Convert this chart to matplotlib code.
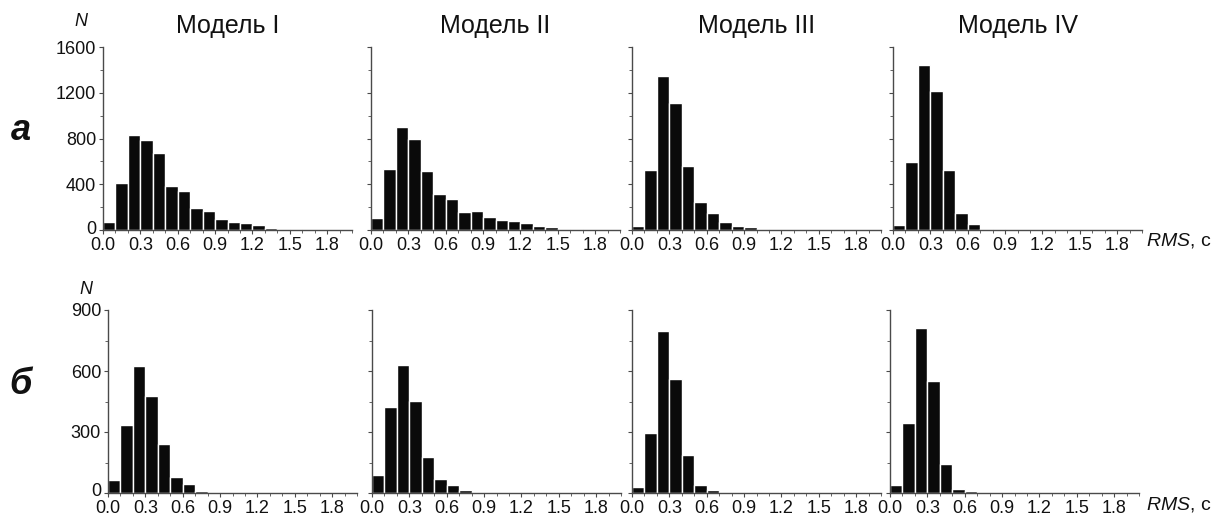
import numpy as np
import matplotlib.pyplot as plt
import matplotlib.transforms as mtransforms
from matplotlib.ticker import MultipleLocator

plt.rcParams['font.family'] = ['Liberation Sans', 'DejaVu Sans']
plt.rcParams['mathtext.fontset'] = 'custom'
plt.rcParams['mathtext.it'] = 'Liberation Sans:italic'
plt.rcParams['mathtext.rm'] = 'Liberation Sans'

# RMS bins: 0.0-0.1, 0.1-0.2, ... (width 0.1 s)
bin_width = 0.1
models = ["Модель I", "Модель II", "Модель III", "Модель IV"]

# row "а"
counts_a = [
    [70, 407, 829, 785, 675, 384, 340, 189, 163, 96, 73, 64, 41, 17, 9, 6, 0, 0, 0, 0],
    [102, 529, 902, 794, 512, 314, 268, 154, 166, 110, 90, 76, 61, 38, 23, 9, 6, 0, 0, 0],
    [38, 521, 1347, 1111, 556, 241, 145, 67, 38, 29, 9, 0, 0, 3, 0, 0, 0, 0, 0, 0],
    [44, 593, 1440, 1219, 527, 145, 52, 12, 12, 0, 0, 0, 0, 0, 0, 0, 0, 0, 0, 0],
]
# row "б"
counts_b = [
    [62, 332, 623, 475, 239, 80, 43, 11, 5, 0, 0, 0, 0, 0, 0, 0, 0, 0, 0, 0],
    [88, 421, 628, 452, 177, 69, 39, 16, 5, 1, 0, 4, 0, 0, 0, 0, 0, 0, 0, 0],
    [28, 293, 797, 560, 187, 41, 15, 0, 0, 5, 0, 0, 0, 0, 0, 0, 0, 0, 0, 0],
    [41, 344, 810, 551, 143, 20, 10, 0, 5, 0, 0, 0, 0, 0, 0, 0, 0, 0, 0, 0],
]
xticks = [0.0, 0.3, 0.6, 0.9, 1.2, 1.5, 1.8]
yticks_a = [0, 400, 800, 1200, 1600]
yticks_b = [0, 300, 600, 900]

W, H = 1226, 519
fig = plt.figure(figsize=(W / 100, H / 100), dpi=100)

rows = [
    (counts_a, yticks_a, 200, [103, 371, 632, 893], 230, "а", 130, 21),
    (counts_b, yticks_b, 150, [108, 372, 632, 890], 493, "б", 384, 289),
]
axis_h = 183
axis_w = 249
spine_col = "#4a4a4a"

for counts, yticks, yminor, lefts, base, letter, letter_y, n_y in rows:
    for i, (vals, left) in enumerate(zip(counts, lefts)):
        ax = fig.add_axes([left / W, 1 - base / H, axis_w / W, axis_h / H])
        edges = np.arange(len(vals)) * bin_width
        ax.bar(edges, vals, width=bin_width, align="edge",
               color="#0a0a0a", edgecolor="white", linewidth=1.0)
        ax.set_xlim(0, 2.0)
        ax.set_ylim(yticks[0], yticks[-1])
        ax.set_xticks(xticks)
        ax.set_xticklabels([f"{t:.1f}" for t in xticks])
        ax.xaxis.set_minor_locator(MultipleLocator(0.1))
        ax.set_yticks(yticks)
        ax.yaxis.set_minor_locator(MultipleLocator(yminor))
        if i > 0:
            ax.set_yticklabels([])
        for s in ("top", "right"):
            ax.spines[s].set_visible(False)
        for s in ("left", "bottom"):
            ax.spines[s].set_color(spine_col)
            ax.spines[s].set_linewidth(1.0)
        ax.tick_params(which="both", direction="out", colors=spine_col,
                       labelcolor="#111111", labelsize=13)
        ax.tick_params(axis="x", pad=2)
        ax.tick_params(axis="y", pad=2)
        ax.tick_params(which="major", length=3, width=0.8)
        ax.tick_params(which="minor", length=2, width=0.6)
        # nudge the "0" on the y axis a little up, away from the "0.0" below
        if i == 0:
            zero_lbl = ax.get_yticklabels()[0]
            shift = mtransforms.ScaledTranslation(0, 3 / 100, fig.dpi_scale_trans)
            zero_lbl.set_transform(zero_lbl.get_transform() + shift)

        if counts is counts_a:
            fig.text((left + axis_w / 2) / W, 1 - 26 / H, models[i],
                     ha="center", va="center", fontsize=18, color="#111111")

    # row letter and N label
    fig.text(21 / W, 1 - letter_y / H, letter, ha="center", va="center",
             fontsize=26, fontweight="bold", fontstyle="italic", color="#111111")
    fig.text((lefts[0] - 22) / W, 1 - n_y / H, "N", ha="center", va="center",
             fontsize=13, fontstyle="italic", color="#111111")
    fig.text(1146 / W, 1 - (base + 11) / H, r"$\mathit{RMS}$, с", ha="left",
             va="center", fontsize=14, color="#111111")

fig.savefig("out.png", dpi=100)
